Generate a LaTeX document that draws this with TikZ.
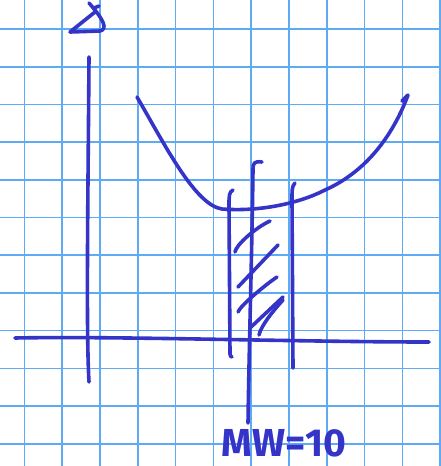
\documentclass[tikz,border=0pt]{standalone}
\usepackage{fontspec}
\setsansfont{Fira Sans}
\definecolor{ink}{RGB}{52,52,200}
\definecolor{paper}{RGB}{95,170,245}
\tikzset{
  pen/.style={draw=ink, line width=3.6pt, line cap=round, line join=round},
  gridline/.style={draw=paper, line width=1.6pt}
}
\begin{document}
\begin{tikzpicture}[x=1pt,y=-1pt]
    \useasboundingbox[fill=white] (0,0) rectangle (441,466);
    \foreach \i in {0,...,11}
      \draw[gridline] ({24.3+37.8*\i},0) -- ({24.3+37.8*\i},466);
    \foreach \j in {0,...,11}
      \draw[gridline] (0,{29+37.7*\j}) -- (441,{29+37.7*\j});
    \coordinate (ytop) at (89,57);
    \coordinate (ybot) at (89,382);
    \coordinate (xleft) at (15,338);
    \coordinate (xright) at (429,342);
    \draw[pen] (ytop) .. controls (88,200) and (86,330) .. (ybot);
    \draw[pen] (xleft) .. controls (120,336) and (300,342) .. (xright);
    \draw[pen] (95,12) -- (70,32) -- (100,31) .. controls (108,29) and (104,20) .. (89,3);
    \draw[pen] (94,8) -- (99,6);
    \draw[pen] (137,97) .. controls (165,145) and (195,205) .. (222,209)
      .. controls (260,212) and (300,203) .. (325,190)
      .. controls (370,170) and (395,130) .. (408,95) -- (402,101);
    \draw[pen] (233,190) .. controls (229,192) and (229,196) .. (229,205)
      -- (230,354) .. controls (230,356) and (231,357) .. (232,357);
    \draw[pen] (262,162) .. controls (254,161) and (253,163) .. (253,170)
      .. controls (252,250) and (249,350) .. (248,423);
    \draw[pen] (295,183) .. controls (292,186) and (292,190) .. (292,200)
      -- (293,368);
    \draw[pen] (235,252) .. controls (236,245) and (255,228) .. (270,221);
    \draw[pen] (238,287) -- (278,245);
    \draw[pen] (238,312) .. controls (240,306) and (265,285) .. (277,277);
    \draw[pen] (250,328) -- (283,297);
    \draw[pen] (259,335) .. controls (261,326) and (272,312) .. (283,300);
    \node[text=ink, font=\sffamily\bfseries\fontsize{39}{39}\selectfont, inner sep=0pt] (label) at (284,443) {MW=10};
\end{tikzpicture}
\end{document}
